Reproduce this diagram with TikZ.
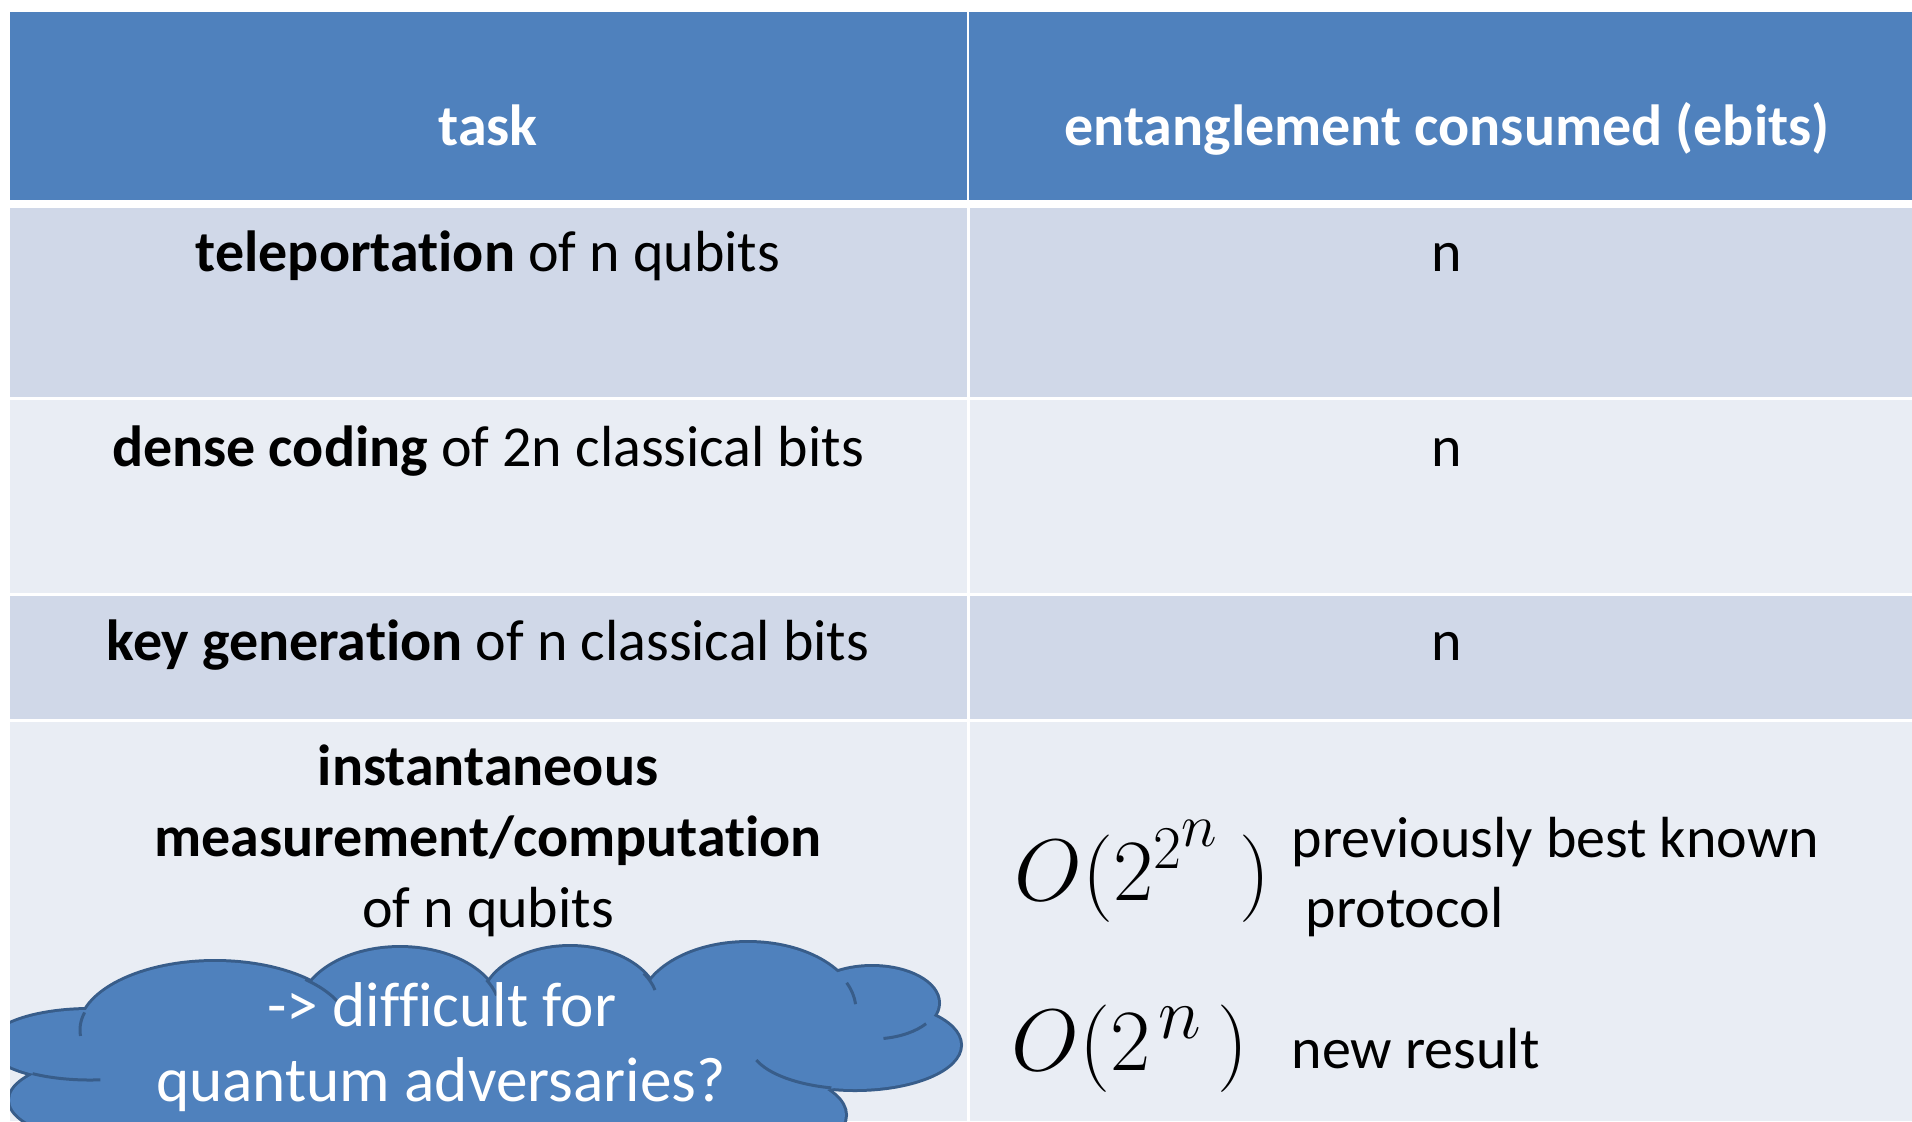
\documentclass[tikz,border=0pt]{standalone}
\usepackage{fontspec}
\setmainfont{Carlito}[Ligatures=NoCommon]
\usepackage{tikz}
\usetikzlibrary{
	positioning
}
\usepackage{xcolor}
\definecolor{headblue}{HTML}{4F81BD}
\definecolor{rowdark}{HTML}{D0D8E8}
\definecolor{rowlight}{HTML}{E9EDF4}
\definecolor{cloudedge}{HTML}{385D8A}

\begin{document}
\begin{tikzpicture}[
			x=0.1mm,y=-0.1mm,
			txt/.style={anchor=base,inner sep=0pt,font=\fontsize{16.5}{20}\selectfont},
			headtxt/.style={txt,text=white,font=\fontsize{16.5}{20}\selectfont\bfseries},
			mathtxt/.style={anchor=base west,inner sep=0pt},
			notetxt/.style={anchor=base west,inner sep=0pt,font=\fontsize{16.5}{20}\selectfont},
			puffedge/.style={draw=cloudedge,fill=headblue,line width=0.6mm},
			puffline/.style={draw=cloudedge,line width=0.3mm},
			cloudtxt/.style={anchor=base,inner sep=0pt,text=white,font=\fontsize{18}{22}\selectfont}
			]
			
			\useasboundingbox (0,0) rectangle (1912,1121);
			\fill[white] (0,0) rectangle (1912,1121);
			
			% Header
			\fill[headblue] (10,12) rectangle (967,200);
			\fill[headblue] (969,12) rectangle (1912,200);
			
			% Rows
			\foreach \ya/\yb/\rowcol in {208/397/rowdark,400/593/rowlight,596/719/rowdark,722/1121/rowlight}
			{
				\fill[\rowcol] (10,\ya) rectangle (967,\yb);
				\fill[\rowcol] (970,\ya) rectangle (1912,\yb);
			}
			
			% Header text
			\node[headtxt] (task) at (488,145){task};
			\node[headtxt] (ent) at (1447,145){entanglement consumed (ebits)};
			
			% Tasks
			\node[txt] (tele) at (488,271){\textbf{teleportation} of n qubits};
			\node[txt] (dense) at (488,466){\textbf{dense coding} of 2n classical bits};
			\node[txt] (key) at (488,660){\textbf{key generation} of n classical bits};
			\node[txt] (inst1) at (488,785){\textbf{instantaneous}};
			\node[txt] (inst2) at (488,856){\textbf{measurement/computation}};
			\node[txt] (inst3) at (488,927){of n qubits};
			
			% Costs
			\node[txt] (ntele) at (1447,271){n};
			\node[txt] (ndense) at (1447,466){n};
			\node[txt] (nkey) at (1447,660){n};
			\node[mathtxt,font=\fontsize{26}{30}\selectfont] (old) at (1014,900){$O(2^{2^{\scriptstyle n}}\mkern4mu)$};
			\node[notetxt] (oldnote1) at (1291,857){previously best known};
			\node[notetxt] (oldnote2) at (1305,927){protocol};
			\node[mathtxt,font=\fontsize{28}{32}\selectfont] (new) at (1011,1070){$O(2^{\mkern2mu n}\mkern3mu)$};
			\node[notetxt] (newnote) at (1291,1068){new result};
			
			% Cloud
			\begin{scope}
				\clip (10,0) rectangle (1912,1121);
				\foreach \cx/\cy/\rx/\ry in {90/1045/100/35,215/1030/135/68,400/1012/100/64,570/1005/88/58,748/1010/108/67,
					872/1003/66/36,855/1045/105/44,710/1115/135/50,450/1135/200/50,175/1100/165/50}
				{
					\draw[puffedge] (\cx,\cy) ellipse [x radius=\rx,y radius=\ry];
				}
				\foreach \cx/\cy/\rx/\ry in {90/1045/100/35,215/1030/135/68,400/1012/100/64,570/1005/88/58,748/1010/108/67,
					872/1003/66/36,855/1045/105/44,710/1115/135/50,450/1135/200/50,175/1100/165/50,480/1060/400/60}
				{
					\fill[headblue] (\cx,\cy) ellipse [x radius=\rx,y radius=\ry];
				}
				% inner arcs
				\foreach \cx/\cy/\rx/\ry/\sa/\ea in {215/1030/135/68/195/175,215/1030/135/68/312/335,400/1012/100/64/330/345,
					570/1005/88/58/327/345,748/1010/108/67/336/355,872/1003/66/36/35/80,855/1045/105/44/103/160,90/1045/100/35/84/125}
				{
					\draw[puffline] ({\cx+\rx*cos(\sa)},{\cy+\ry*sin(\sa)}) arc [start angle=\sa,end angle=\ea,x radius=\rx,y radius=\ry];
				}
			\end{scope}
			\node[cloudtxt] (cloud1) at (442,1026){-> difficult for};
			\node[cloudtxt] (cloud2) at (441,1101){quantum adversaries?};
			
		\end{tikzpicture}
\end{document}
